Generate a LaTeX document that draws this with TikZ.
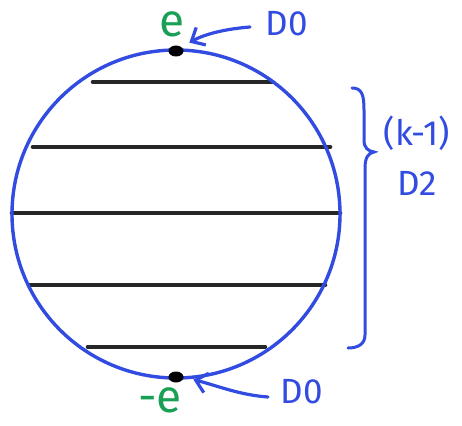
\documentclass[tikz,border=0pt]{standalone}
\usepackage{fontspec}
\setmainfont{Fira Sans}
\usepackage{tikz}
\usetikzlibrary{arrows.meta,positioning,shapes.geometric}
\definecolor{penblue}{RGB}{50,75,225}
\definecolor{pengreen}{RGB}{25,160,85}
\begin{document}
\begin{tikzpicture}[x=1pt, y=-1pt]
\tikzstyle{chord}=[line width=4.6pt, draw=black!85, line cap=round]
\tikzstyle{pin}=[ellipse, fill=black, inner sep=0pt, minimum width=15pt, minimum height=11pt]
\tikzstyle{lbl}=[text=penblue, font=\fontsize{35}{37}\selectfont\mdseries]
\tikzstyle{charge}=[text=pengreen, font=\fontsize{46}{46}\selectfont\mdseries]
\tikzstyle{pointer}=[draw=penblue, line width=3.2pt, line cap=round, -{Straight Barb[length=11pt, width=20pt, line width=3.2pt]}]
\useasboundingbox[fill=white] (0,0) rectangle (462,425);
% stack of D2 slices
\foreach \y/\a/\b in {82/93/272, 147/33/330, 213/12/340, 285/30/325, 347/88/265}{\draw[chord] (\a,\y) -- (\b,\y);}
\draw[penblue, line width=3.4pt] (176,214) circle (164);
\node[pin] (top) at (176,51) {};
\node[pin] (bot) at (176,377) {};
\node[charge] (e) at (172,24) {e};
\node[charge] (me) at (160,400) {-e};
\node[lbl] (d0a) at (287,24) {D0};
\node[lbl] (d0b) at (302,392) {D0};
\coordinate (ta) at (250,27);
\coordinate (ba) at (268,397);
\draw[pointer, shorten >=9pt] (ta) .. controls (225,29) and (205,34) .. (top.north east);
\draw[pointer, shorten >=10pt] (ba) .. controls (240,395) and (218,386) .. (bot.east);
% brace for the stack
\draw[penblue, line width=3pt, line cap=round] (352,88) .. controls (362,88) and (364,95) .. (364,110) -- (364,140) .. controls (364,148) and (368,151) .. (374,152) .. controls (368,153) and (365,158) .. (365,168) -- (365,335) .. controls (365,344) and (358,348) .. (348,348);
\node[lbl] (k) at (417,133) {(k-1)};
\node[lbl] (d2) at (417,183) {D2};
\end{tikzpicture}
\end{document}
